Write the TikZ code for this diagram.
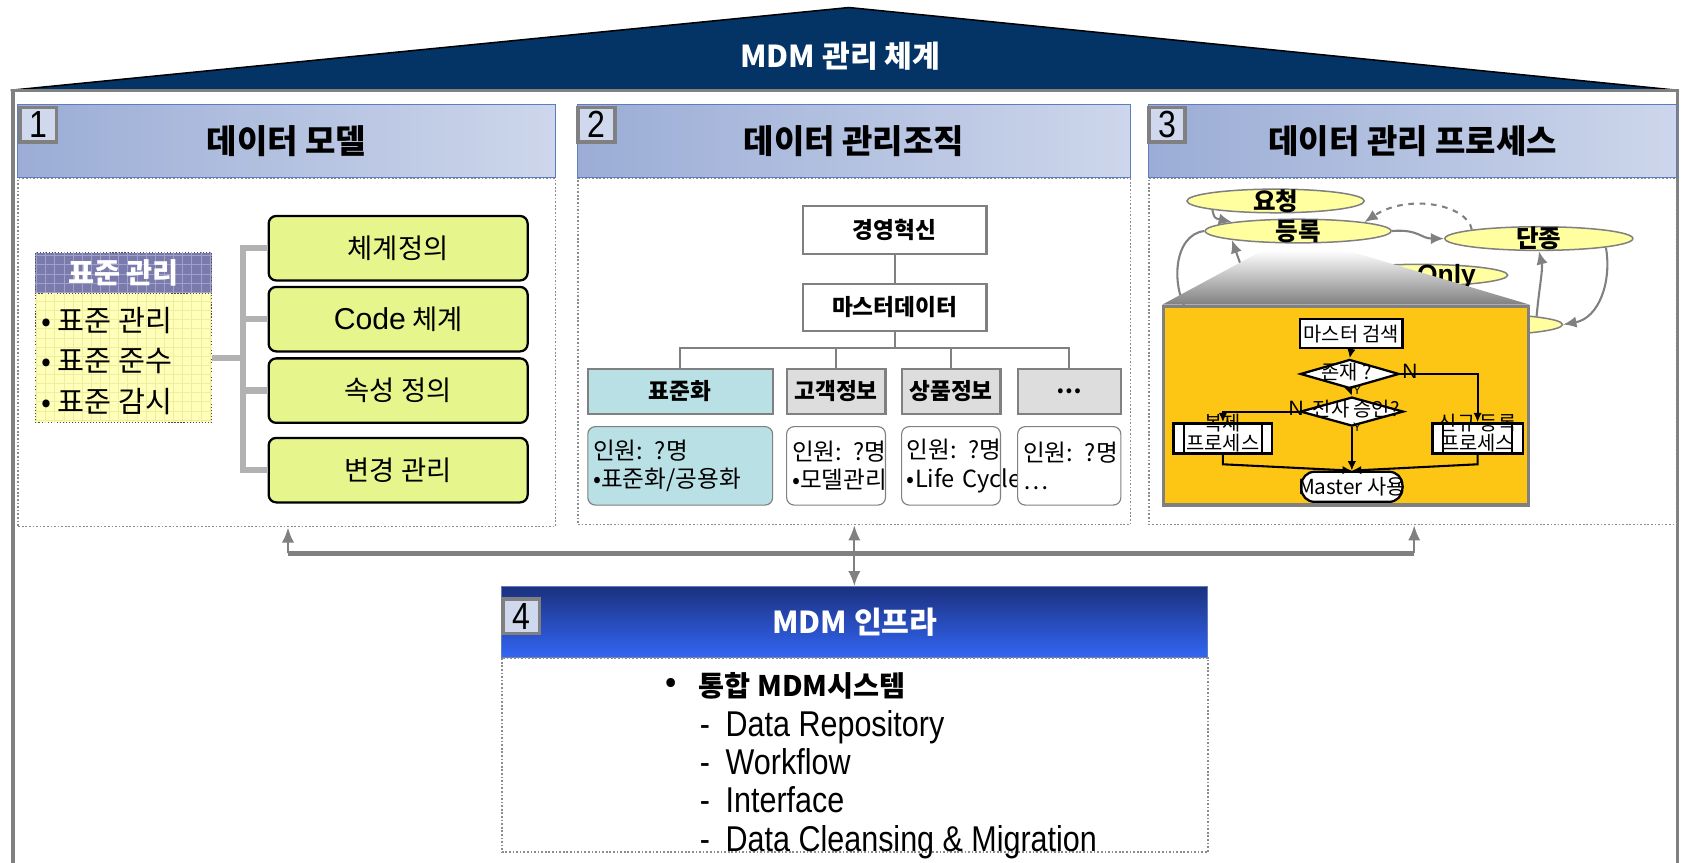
\documentclass[tikz,border=0pt]{standalone}
\usepackage{fontspec}
\setmainfont{Noto Sans CJK KR}
\newfontfamily\lsans{Liberation Sans}
\newfontfamily\lnarrow[FakeStretch=0.85]{Liberation Sans}
\usetikzlibrary{arrows.meta,shapes.geometric,calc}

\definecolor{roofblue}{RGB}{3,52,101}
\definecolor{headA}{RGB}{155,173,214}
\definecolor{headB}{RGB}{205,214,235}
\definecolor{headline}{RGB}{95,125,190}
\definecolor{numfill}{RGB}{207,216,236}
\definecolor{framegray}{RGB}{128,128,128}
\definecolor{dotgray}{RGB}{140,140,140}
\definecolor{infraA}{RGB}{27,49,126}
\definecolor{infraB}{RGB}{51,102,245}
\definecolor{boxgreen}{RGB}{230,246,140}
\definecolor{bracketgray}{RGB}{178,178,178}
\definecolor{stdpurple}{RGB}{122,122,172}
\definecolor{stdgrid}{RGB}{160,160,205}
\definecolor{stdyellow}{RGB}{255,255,185}
\definecolor{listgrid}{RGB}{238,238,160}
\definecolor{orgteal}{RGB}{185,224,228}
\definecolor{orggray}{RGB}{221,221,221}
\definecolor{ellyellow}{RGB}{255,255,160}
\definecolor{zoomorange}{RGB}{254,198,20}

\newlength\pxu
\setlength\pxu{0.02cm}

\begin{document}
\begin{tikzpicture}[x=0.02cm, y=-0.02cm,
    header/.style={draw=headline, line width=0.6pt, left color=headA, right color=headB,
      minimum height=68\pxu, inner sep=0pt, font=\bfseries\fontsize{17.5}{20}\selectfont},
    panelbody/.style={draw=dotgray, densely dotted, line width=0.9pt, inner sep=0pt},
    numbox/.style={draw=framegray, line width=2pt, fill=numfill, inner sep=0pt,
      minimum width=34\pxu, minimum height=32\pxu, font=\lnarrow\fontsize{20}{20}\selectfont},
    stdhead/.style={fill=stdpurple, draw=black!70, densely dotted, line width=0.6pt,
      minimum width=164\pxu, minimum height=37\pxu, inner sep=0pt},
    stdlist/.style={fill=stdyellow, draw=black!70, densely dotted, line width=0.6pt,
      minimum width=164\pxu, minimum height=120\pxu, inner sep=0pt},
    stditem/.style={anchor=west, inner sep=0pt, font=\fontsize{15.5}{17}\selectfont},
    greenbox/.style={draw=black, line width=1.2pt, fill=boxgreen, rounded corners=4pt,
      minimum width=241\pxu, minimum height=60\pxu, inner sep=0pt, font=\fontsize{14.5}{16}\selectfont},
    bracket/.style={draw=bracketgray, line width=3.4pt},
    orgtop/.style={draw=framegray, line width=1.1pt, fill=white, minimum width=171\pxu,
      minimum height=44\pxu, inner sep=0pt, font=\bfseries\fontsize{12}{14}\selectfont},
    orgunit/.style={draw=framegray, line width=1.1pt, fill=orggray, minimum height=42\pxu,
      inner sep=0pt, font=\bfseries\fontsize{12}{14}\selectfont},
    orgdetail/.style={draw=framegray, line width=0.6pt, fill=white, rounded corners=4pt,
      minimum height=73\pxu, inner xsep=5\pxu, align=left, font=\fontsize{12.5}{15}\selectfont},
    orgline/.style={draw=framegray, line width=1.1pt},
    stateell/.style={ellipse, draw=framegray, line width=0.8pt, fill=ellyellow, inner sep=0pt,
      minimum height=22\pxu},
    statetext/.style={inner sep=0pt, font=\bfseries\fontsize{13}{14}\selectfont},
    gline/.style={draw=framegray, line width=1.1pt},
    garr/.style={draw=framegray, line width=1.1pt, -{Latex[length=7pt,width=6pt]}},
    fbox/.style={draw=black, line width=1.2pt, fill=white, inner sep=0pt, minimum height=27\pxu},
    fdiamond/.style={diamond, draw=black, line width=1.2pt, fill=white, inner sep=0pt,
      minimum width=92\pxu, minimum height=27\pxu},
    ftext/.style={inner sep=0pt, align=center, font=\fontsize{10.5}{9}\selectfont},
    farr/.style={draw=black, line width=1.1pt, -{Latex[length=5pt,width=4.5pt]}},
    busline/.style={draw=framegray, line width=2.8pt},
    busarrow/.style={draw=framegray, line width=1.2pt, -{Latex[length=8pt,width=6.5pt]}},
    infraitem/.style={anchor=base west, inner sep=0pt, font=\lnarrow\fontsize{19}{22}\selectfont}]
\useasboundingbox (0,0) rectangle (1568,803);

% Drawing roof and outer frame
\fill[roofblue] (10,84) -- (790,7) -- (1561,84) -- cycle;
\draw[line width=0.8pt] (10,84) -- (790,7) -- (1561,84);
\draw[framegray, line width=1.7pt] (12,830) -- (12,84) -- (1561,84) -- (1561,830);
\node[text=white, font=\bfseries\fontsize{16}{18}\selectfont] (title) at (782,52) {MDM 관리 체계};

% Drawing panel 1 : data model
\node[header, minimum width=501\pxu] (h1) at (266.5,131) {데이터 모델};
\node[panelbody, minimum width=500\pxu, minimum height=324\pxu] (b1) at (267,328) {};
\node[numbox] (n1) at (35.5,116) {1};

% Drawing panel 2 : organisation
\node[header, minimum width=515\pxu] (h2) at (794.5,131) {데이터 관리조직};
\node[panelbody, minimum width=514\pxu, minimum height=322\pxu] (b2) at (795,327) {};
\node[numbox] (n2) at (555,116) {2};

% Drawing panel 3 : process
\node[header, minimum width=491\pxu] (h3) at (1314.5,131) {데이터 관리 프로세스};
\node[panelbody, minimum width=491\pxu, minimum height=322\pxu] (b3) at (1314.5,327) {};
\node[numbox] (n3) at (1086,116) {3};

% Marking standard box with grid
\node[stdhead] (stdh) at (115,253.5) {};
\begin{scope}
  \clip (stdh.south west) rectangle (stdh.north east);
  \draw[stdgrid, line width=0.4pt, step=0.17cm] (stdh.south west) grid (stdh.north east);
\end{scope}
\node[text=white, font=\bfseries\fontsize{15}{16}\selectfont] (stdt) at (stdh) {표준 관리};
\node[stdlist] (stdl) at (115,333) {};
\begin{scope}
  \clip (stdl.south west) rectangle (stdl.north east);
  \draw[listgrid, line width=0.4pt, step=0.17cm] (stdl.south west) grid (stdl.north east);
\end{scope}
\node[stditem] (s1) at (38,298) {• 표준 관리};
\node[stditem] (s2) at (38,336) {• 표준 준수};
\node[stditem] (s3) at (38,374) {• 표준 감시};

% Marking green boxes
\node[greenbox] (g1) at (370.5,231) {체계정의};
\node[greenbox] (g2) at (370.5,297) {{\lsans\fontsize{16}{16}\selectfont Code} 체계};
\node[greenbox] (g3) at (370.5,363.5) {속성 정의};
\node[greenbox] (g4) at (370.5,437.5) {변경 관리};

% Drawing bracket
\coordinate (bk) at (226,333);
\draw[bracket] (g1.west) -- (g1.west -| bk) -- (g4.west -| bk) -- (g4.west);
\draw[bracket] (g2.west) -- (g2.west -| bk);
\draw[bracket] (g3.west) -- (g3.west -| bk);
\draw[bracket] (stdl.east) -- (bk);

% Marking organisation chart
\node[orgtop] (ceo) at (832.5,214) {경영혁신};
\node[orgtop] (mst) at (832.5,286) {마스터데이터};
\draw[orgline] (ceo) -- (mst);
\coordinate (tree) at (832.5,324);
\node[orgunit, fill=orgteal, minimum width=172\pxu] (u1) at (633,364) {표준화};
\node[orgunit, minimum width=92\pxu] (u2) at (778,364) {고객정보};
\node[orgunit, minimum width=92\pxu] (u3) at (885,364) {상품정보};
\node[orgunit, minimum width=96\pxu] (u4) at (995,364) {…};
\draw[orgline] (mst) -- (tree);
\draw[orgline] (u1.north) |- (tree) -| (u4.north);
\draw[orgline] (u2.north) -- (u2.north |- tree);
\draw[orgline] (u3.north) -- (u3.north |- tree);
\node[orgdetail, fill=orgteal, text width=162\pxu] (d1) at (633,433.5) {\mbox{인원: ?명}\\\mbox{•표준화/공용화}};
\node[orgdetail, text width=82\pxu] (d2) at (778,433.5) {\mbox{인원: ?명}\\\mbox{•모델관리}};
\node[orgdetail, text width=82\pxu] (d3) at (885,433.5) {\mbox{인원: ?명}\\\mbox{•Life Cycle}};
\node[orgdetail, text width=86\pxu] (d4) at (995,433.5) {\mbox{인원: ?명}\\…};

% Marking state ellipses
\node[stateell, minimum width=165\pxu] (req) at (1187,187) {};
\node[statetext] (treq) at (req) {요청};
\node[stateell, minimum width=173\pxu] (reg) at (1208,215) {};
\node[statetext] (treg) at (reg) {등록};
\node[stateell, minimum width=175\pxu] (dis) at (1432,222) {};
\node[statetext] (tdis) at (dis) {단종};
\node[stateell, minimum width=166\pxu, minimum height=20\pxu] (ro) at (1320,256) {};
\node[statetext, font=\lsans\bfseries\fontsize{14}{14}\selectfont] (tro) at (1346,257) {Only};
\node[stateell, minimum width=168\pxu, minimum height=20\pxu] (hid) at (1370,302) {};

% Drawing state arrows
\coordinate (lpend) at (1108,295);
\coordinate (upfrom) at (1160,262);
\draw[garr] (req.south west) .. controls (1130,203) .. (reg.north west);
\draw[garr, dashed] (dis.north west) .. controls (1365,190) and (1310,180) .. (reg.north east);
\draw[garr] (reg.east) .. controls (1320,213) and (1322,222) .. (dis.west);
\draw[gline] (reg.west) .. controls (1092,218) and (1088,268) .. (lpend);
\draw[garr] (upfrom) -- (reg.south west);
\draw[garr] (hid.north east) .. controls (1432,270) and (1436,250) .. (dis.south);
\draw[garr] (dis.south east) .. controls (1500,262) and (1488,296) .. (hid.east);

% Drawing zoom box
\node[draw=framegray, line width=1.7pt, fill=zoomorange, minimum width=339\pxu,
  minimum height=185\pxu, inner sep=0pt] (zb) at (1252.5,377.5) {};
\shade[top color=white, bottom color=framegray] (1175,233) -- (1253,233) -- (zb.north east) -- (zb.north west) -- cycle;

% Marking flow chart
\node[fbox, minimum width=95\pxu] (m1) at (1257.5,310.5) {};
\node[ftext] (m1t) at (m1) {마스터 검색};
\node[fdiamond] (q1) at (1256,348) {};
\node[ftext] (q1t) at (1253,346) {존재 ?};
\node[fdiamond, minimum width=96\pxu] (q2) at (1258,383) {};
\node[ftext] (q2t) at (1262,381) {전사 승인?};
\node[fbox, minimum width=92\pxu, minimum height=28\pxu] (p1) at (1138,408) {};
\node[fbox, minimum width=84\pxu, minimum height=28\pxu] (p2) at (1375,408) {};
\draw[line width=1.2pt] ($(p1.north west)+(11,0)$) -- ($(p1.south west)+(11,0)$);
\draw[line width=1.2pt] ($(p1.north east)+(-11,0)$) -- ($(p1.south east)+(-11,0)$);
\draw[line width=1.2pt] ($(p2.north west)+(11,0)$) -- ($(p2.south west)+(11,0)$);
\draw[line width=1.2pt] ($(p2.north east)+(-11,0)$) -- ($(p2.south east)+(-11,0)$);
\node[fbox, rounded corners=7pt, minimum width=94\pxu, minimum height=28\pxu] (term) at (1258,453) {};
\draw[farr] (m1.south) -- (q1.north);
\draw[farr] (q1.east) -| (p2.north);
\draw[farr] (q1.south) -- (q2.north);
\draw[farr] (q2.west) -| (p1.north);
\draw[farr] (q2.south) -- (term.north);
\draw[farr] (p1.south) -- ++(0,9) -- (term.north);
\draw[farr] (p2.south) -- ++(0,9) -- (term.north);
\node[ftext] (p1t) at (1138,403) {복제\\프로세스};
\node[ftext] (p2t) at (1375,403) {신규 등록\\프로세스};
\node[ftext, font=\fontsize{11}{11}\selectfont] (termt) at (term) {Master 사용};
\node[ftext, font=\lsans\fontsize{11}{11}\selectfont] (yes1) at (1312,346) {N};
\node[ftext, font=\lsans\fontsize{11}{11}\selectfont] (no2) at (1206,380) {N};
\node[ftext, font=\lsans\fontsize{6.5}{7}\selectfont] (y1) at (1263,363) {Y};
\node[ftext, font=\lsans\fontsize{6.5}{7}\selectfont] (y2) at (1263,398) {Y};

% Drawing panel 4 : infrastructure
\node[draw=headline, line width=0.6pt, top color=infraA, bottom color=infraB, minimum width=657\pxu,
  minimum height=66\pxu, inner sep=0pt, text=white, font=\bfseries\fontsize{16}{18}\selectfont] (h4) at (795.5,579) {MDM 인프라};
\node[panelbody, minimum width=657\pxu, minimum height=181\pxu] (b4) at (795.5,702.5) {};
\node[numbox] (n4) at (485,573.5) {4};
\node[inner sep=0pt, font=\bfseries\fontsize{15}{18}\selectfont] (bul) at (625,637) {•};
\node[anchor=west, inner sep=0pt, font=\bfseries\fontsize{15}{18}\selectfont] (sys) at (650,638) {통합 MDM시스템};
\node[infraitem] (r1) at (651,685) {\makebox[24\pxu][l]{-}Data Repository};
\node[infraitem] (r2) at (651,721) {\makebox[24\pxu][l]{-}Workflow};
\node[infraitem] (r3) at (651,756) {\makebox[24\pxu][l]{-}Interface};
\node[infraitem] (r4) at (651,792) {\makebox[24\pxu][l]{-}Data Cleansing \& Migration};

% Drawing connectors to infrastructure
\coordinate (bl) at (268,515);
\coordinate (bm) at (795,515);
\coordinate (br) at (1316,515);
\draw[busline] (bl) -- (br);
\draw[busarrow] (bl) -- (bl |- b1.south);
\draw[busarrow] (bm) -- (bm |- b2.south);
\draw[busarrow] (br) -- (br |- b3.south);
\draw[busarrow] (bm) -- (bm |- h4.north);
\end{tikzpicture}
\end{document}
